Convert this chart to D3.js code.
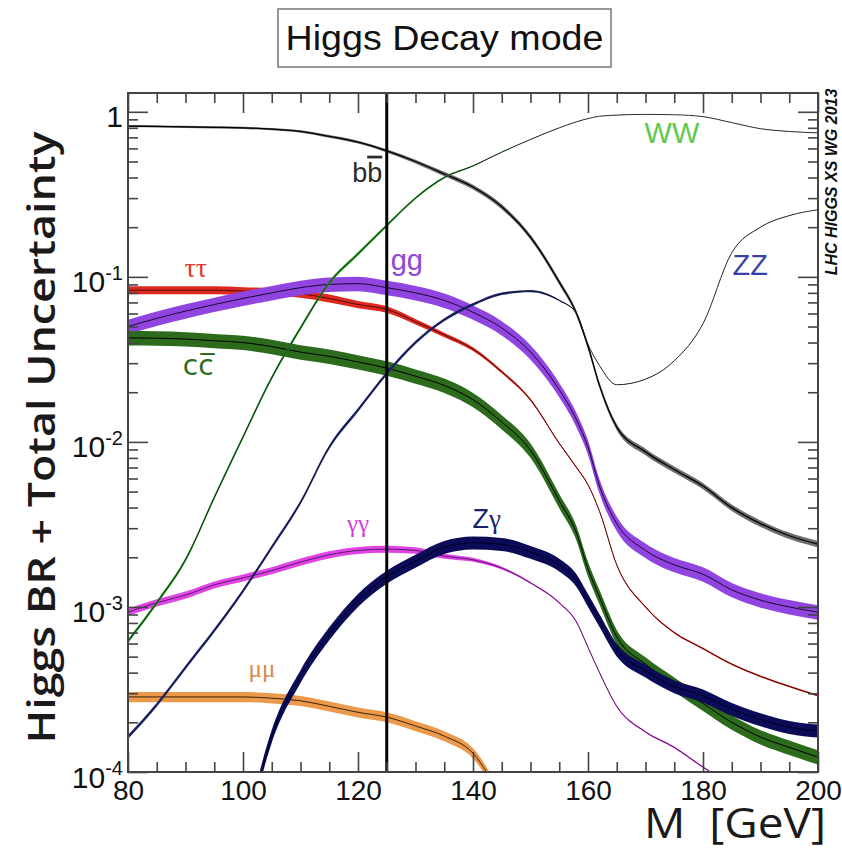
<!DOCTYPE html>
<html>
<head>
<meta charset="utf-8">
<script src="https://cdn.jsdelivr.net/npm/d3@7"></script>
<style>
  html, body { margin: 0; padding: 0; background: #fff; }
  svg { display: block; font-family: "Liberation Sans", Arial, sans-serif; }
</style>
</head>
<body>
<svg id="chart"></svg>
<script>
// Higgs mass grid [GeV]
const masses = [80, 85, 90, 95, 100, 105, 110, 115, 120, 125, 130, 135, 140, 145, 150, 155, 158, 160, 162, 165, 170, 175, 180, 185, 190, 195, 200];

// branching ratios (null = outside the frame)
const brBB = [0.82, 0.815, 0.81, 0.805, 0.80, 0.785, 0.76, 0.71, 0.655, 0.58, 0.50, 0.42, 0.35, 0.266, 0.174, 0.093, 0.06, 0.038, 0.022, 0.0123, 0.0087, 0.0068, 0.0054, 0.0040, 0.0032, 0.0027, 0.0024];
const brTauTau = [0.083, 0.083, 0.083, 0.083, 0.082, 0.081, 0.079, 0.074, 0.068, 0.0635, 0.0535, 0.0445, 0.0365, 0.0266, 0.018, 0.0098, 0.0070, 0.0055, 0.0038, 0.0018, 0.0010, 7.0e-4, 5.6e-4, 4.5e-4, 3.8e-4, 3.3e-4, 2.9e-4];
const brGG = [0.050, 0.056, 0.062, 0.068, 0.074, 0.080, 0.086, 0.090, 0.091, 0.086, 0.080, 0.072, 0.061, 0.049, 0.035, 0.0207, 0.0136, 0.0093, 0.0054, 0.0032, 0.0022, 0.0018, 0.00158, 0.00127, 0.0011, 0.0010, 0.00093];
const brCC = [0.0427, 0.0425, 0.042, 0.041, 0.040, 0.0378, 0.035, 0.033, 0.0305, 0.028, 0.025, 0.022, 0.018, 0.0132, 0.0089, 0.0044, 0.0028, 0.0017, 0.00115, 6.6e-4, 4.5e-4, 3.4e-4, 2.6e-4, 2.0e-4, 1.63e-4, 1.41e-4, 1.23e-4];
const brWW = [6.2e-4, 1.06e-3, 1.93e-3, 4.6e-3, 0.0107, 0.0245, 0.049, 0.092, 0.138, 0.205, 0.30, 0.40, 0.47, 0.57, 0.68, 0.80, 0.87, 0.91, 0.94, 0.955, 0.965, 0.96, 0.935, 0.86, 0.79, 0.76, 0.745];
const brZZ = [1.63e-4, 2.56e-4, 4.3e-4, 7.2e-4, 1.25e-3, 2.3e-3, 4.3e-3, 9.3e-3, 0.0156, 0.026, 0.040, 0.055, 0.068, 0.079, 0.082, 0.072, 0.060, 0.039, 0.029, 0.0222, 0.024, 0.031, 0.052, 0.14, 0.20, 0.235, 0.255];
const brGamGam = [9.3e-4, 1.06e-3, 1.18e-3, 1.36e-3, 1.5e-3, 1.66e-3, 1.87e-3, 2.07e-3, 2.2e-3, 2.24e-3, 2.2e-3, 2.03e-3, 1.93e-3, 1.72e-3, 1.4e-3, 1.06e-3, 8.1e-4, 5.7e-4, 4.0e-4, 2.5e-4, 1.75e-4, 1.41e-4, 1.07e-4, 8.3e-5, null, null, null];
const brZGam = [null, null, null, null, 3.5e-5, 1.65e-4, 3.8e-4, 6.9e-4, 1.1e-3, 1.52e-3, 1.9e-3, 2.3e-3, 2.45e-3, 2.4e-3, 2.15e-3, 1.8e-3, 1.45e-3, 1.1e-3, 8.3e-4, 5.5e-4, 4.1e-4, 3.3e-4, 2.9e-4, 2.4e-4, 2.08e-4, 1.87e-4, 1.78e-4];
const brMuMu = [2.85e-4, 2.85e-4, 2.85e-4, 2.85e-4, 2.85e-4, 2.8e-4, 2.7e-4, 2.5e-4, 2.3e-4, 2.15e-4, 1.9e-4, 1.65e-4, 1.3e-4, 7.0e-5, 3.5e-5, null, null, null, null, null, null, null, null, null, null, null, null];

// relative total uncertainty (half width of the band)
const errBB = [0.015, 0.015, 0.015, 0.015, 0.015, 0.015, 0.016, 0.018, 0.02, 0.022, 0.026, 0.03, 0.032, 0.034, 0.035, 0.037, 0.038, 0.04, 0.04, 0.042, 0.045, 0.045, 0.045, 0.045, 0.045, 0.045, 0.045];
const errTauTau = [0.055, 0.055, 0.055, 0.055, 0.055, 0.055, 0.055, 0.055, 0.05, 0.045, 0.038, 0.032, 0.027, 0.022, 0.018, 0.012, 0.012, 0.012, 0.012, 0.012, 0.012, 0.012, 0.012, 0.012, 0.012, 0.012, 0.012];
const errGamGam = [0.05, 0.05, 0.05, 0.05, 0.05, 0.05, 0.05, 0.05, 0.05, 0.05, 0.045, 0.035, 0.028, 0.02, 0.012, 0.012, 0.012, 0.012, 0.012, 0.012, 0.012, 0.012, 0.012, 0.012, 0.012, 0.012, 0.012];
const errWW = [0.028, 0.028, 0.028, 0.028, 0.028, 0.028, 0.027, 0.026, 0.024, 0.021, 0.017, 0.013, 0.009, 0.005, 0.003, 0.0015, 0.0015, 0.0015, 0.0015, 0.0015, 0.0015, 0.0015, 0.0015, 0.0015, 0.0015, 0.0015, 0.0015];
const errZZ = [0.028, 0.028, 0.028, 0.028, 0.028, 0.028, 0.028, 0.028, 0.027, 0.026, 0.024, 0.022, 0.02, 0.018, 0.015, 0.01, 0.005, 0.003, 0.0015, 0.0015, 0.0015, 0.0015, 0.0015, 0.0015, 0.0015, 0.0015, 0.0015];
const errGG = 0.1;
const errCC = 0.1;
const errZGam = 0.09;
const errMuMu = 0.07;

const xTicks = [80, 100, 120, 140, 160, 180, 200];
const yTicks = [1e-4, 1e-3, 1e-2, 1e-1, 1];
const yTickLabels = [["10", "-4"], ["10", "-3"], ["10", "-2"], ["10", "-1"], ["1", ""]];
const mHiggs = 125;

const width = 842, height = 849;
const margin = { top: 93, right: 24, bottom: 77, left: 128 };

// draw order: bands first, then the thin WW / ZZ lines
const series = [
  { name: "bb", values: brBB, err: errBB, fill: "#6e6e6e", stroke: "#000", sw: 1.3,
    label: { m: 121.6, v: 0.377, size: 27, color: "#2a2a2a", parts: [["b"], ["b", "over"]] } },
  { name: "tautau", values: brTauTau, err: errTauTau, fill: "#dc2a20", stroke: "#5a0a05", sw: 1,
    label: { m: 91.8, v: 0.1, size: 28, color: "#e5382c", parts: [["ττ", "serif"]] } },
  { name: "gg", values: brGG, err: errGG, fill: "#9145e0", stroke: "#1a0630", sw: 1,
    label: { m: 128.5, v: 0.11, size: 29, color: "#8c45d8", parts: [["gg"]] } },
  { name: "cc", values: brCC, err: errCC, fill: "#2c6a1c", stroke: "#000", sw: 1,
    label: { m: 92.2, v: 0.0255, size: 28, color: "#2f6b22", parts: [["cc\u0305", "dejavu"]] } },
  { name: "gamgam", values: brGamGam, err: errGamGam, fill: "#e043e6", stroke: "#5a1a6a", sw: 1,
    label: { m: 120, v: 0.00285, size: 25, color: "#d43fd6", parts: [["γγ", "serif"]] } },
  { name: "mumu", values: brMuMu, err: errMuMu, fill: "#eb9a4c", stroke: "#3a2008", sw: 1,
    label: { m: 103.3, v: 3.77e-4, size: 25, color: "#d58a48", parts: [["μμ", "serif"]] } },
  { name: "zgam", values: brZGam, err: errZGam, fill: "#0b0b58", stroke: "#000028", sw: 1,
    label: { m: 142.4, v: 0.0030, size: 27, color: "#1b2170", parts: [["Z"], ["γ", "serif"]] } },
  { name: "ww", values: brWW, err: errWW, fill: "#22a022", stroke: "#1c1c1c", sw: 0.9,
    label: { m: 174.6, v: 0.649, size: 29, color: "#5ec94c", parts: [["WW"]] } },
  { name: "zz", values: brZZ, err: errZZ, fill: "#252c86", stroke: "#141414", sw: 0.9,
    label: { m: 188.2, v: 0.103, size: 29, color: "#3b3fa8", parts: [["ZZ"]] } }
];

const svg = d3.select("#chart")
  .attr("width", width)
  .attr("height", height);

const xScale = d3.scaleLinear()
  .domain([80, 200])
  .range([margin.left, width - margin.right]);

const yScale = d3.scaleLog()
  .domain([1e-4, 1.3])
  .range([height - margin.bottom, margin.top]);

svg.append("defs").append("clipPath")
  .attr("id", "plot-clip")
  .append("rect")
  .attr("x", margin.left)
  .attr("y", margin.top)
  .attr("width", width - margin.left - margin.right)
  .attr("height", height - margin.top - margin.bottom);

const points = (s) => masses
  .map((m, i) => ({ m, v: s.values[i], e: typeof s.err === "number" ? s.err : s.err[i] }))
  .filter(d => d.v != null);

const band = d3.area()
  .x(d => xScale(d.m))
  .y0(d => yScale(d.v * (1 - d.e)))
  .y1(d => yScale(d.v * (1 + d.e)))
  .curve(d3.curveMonotoneX);

const centre = d3.line()
  .x(d => xScale(d.m))
  .y(d => yScale(d.v))
  .curve(d3.curveMonotoneX);

const plot = svg.append("g").attr("clip-path", "url(#plot-clip)");

series.forEach(s => {
  const pts = points(s);
  plot.append("path")
    .attr("d", band(pts))
    .attr("fill", s.fill);
  plot.append("path")
    .attr("d", centre(pts))
    .attr("fill", "none")
    .attr("stroke", s.stroke)
    .attr("stroke-width", s.sw);
});

// SM Higgs mass marker
plot.append("line")
  .attr("x1", xScale(mHiggs)).attr("x2", xScale(mHiggs))
  .attr("y1", margin.top).attr("y2", height - margin.bottom)
  .attr("stroke", "#000")
  .attr("stroke-width", 3);

// curve labels
series.forEach(s => {
  const lb = s.label;
  const t = svg.append("text")
    .attr("x", xScale(lb.m))
    .attr("y", yScale(lb.v))
    .attr("text-anchor", "middle")
    .attr("font-size", lb.size)
    .attr("fill", lb.color);
  lb.parts.forEach(([txt, style]) => {
    const ts = t.append("tspan").text(txt);
    if (style === "serif") ts.attr("font-family", "'Liberation Serif', 'DejaVu Serif', serif");
    if (style === "dejavu") ts.attr("font-family", "'DejaVu Sans', sans-serif");
    if (style === "over") ts.style("text-decoration", "overline");
  });
});

// axes: ROOT style, ticks inside on all four sides
const axisColor = "#444";
const minorX = d3.range(80, 201, 5).filter(d => d % 20 !== 0);
const minorY = yScale.ticks().filter(d => !yTicks.some(t => Math.abs(t - d) / t < 1e-6));

const styleAxis = (g) => {
  g.select(".domain").remove();
  g.selectAll(".tick line").attr("stroke", axisColor).attr("stroke-width", 1.6);
  g.attr("font-family", "'Liberation Sans', Arial, sans-serif").attr("fill", "#111");
};

const bottomY = height - margin.bottom;
const rightX = width - margin.right;

svg.append("g")
  .attr("transform", `translate(0,${bottomY})`)
  .call(d3.axisBottom(xScale).tickValues(xTicks).tickSize(-20).tickPadding(8).tickFormat(d3.format("d")))
  .call(styleAxis)
  .attr("font-size", 28)
  .selectAll("text").attr("fill", "#111");

svg.append("g")
  .attr("transform", `translate(0,${bottomY})`)
  .call(d3.axisBottom(xScale).tickValues(minorX).tickSize(-10).tickFormat(""))
  .call(styleAxis);

svg.append("g")
  .attr("transform", `translate(0,${margin.top})`)
  .call(d3.axisTop(xScale).tickValues(xTicks).tickSize(-20).tickFormat(""))
  .call(styleAxis);

svg.append("g")
  .attr("transform", `translate(0,${margin.top})`)
  .call(d3.axisTop(xScale).tickValues(minorX).tickSize(-10).tickFormat(""))
  .call(styleAxis);

const yAxisGroup = svg.append("g")
  .attr("transform", `translate(${margin.left},0)`)
  .call(d3.axisLeft(yScale).tickValues(yTicks).tickSize(-20).tickPadding(5).tickFormat(() => ""))
  .call(styleAxis)
  .attr("font-size", 30);

yAxisGroup.selectAll(".tick text").each(function (d, i) {
  const t = d3.select(this).attr("dy", "0.5em").attr("fill", "#111");
  const [base, exp] = yTickLabels[i];
  t.append("tspan").text(base);
  if (exp) t.append("tspan").attr("font-size", 20).attr("dy", "-0.62em").text(exp);
});

svg.append("g")
  .attr("transform", `translate(${margin.left},0)`)
  .call(d3.axisLeft(yScale).tickValues(minorY).tickSize(-10).tickFormat(""))
  .call(styleAxis);

svg.append("g")
  .attr("transform", `translate(${rightX},0)`)
  .call(d3.axisRight(yScale).tickValues(yTicks).tickSize(-20).tickFormat(""))
  .call(styleAxis);

svg.append("g")
  .attr("transform", `translate(${rightX},0)`)
  .call(d3.axisRight(yScale).tickValues(minorY).tickSize(-10).tickFormat(""))
  .call(styleAxis);

// frame
svg.append("rect")
  .attr("x", margin.left)
  .attr("y", margin.top)
  .attr("width", rightX - margin.left)
  .attr("height", bottomY - margin.top)
  .attr("fill", "none")
  .attr("stroke", axisColor)
  .attr("stroke-width", 2);

// axis titles
svg.append("text")
  .attr("transform", `translate(55,${(margin.top + bottomY) / 2 + 5}) rotate(-90)`)
  .attr("text-anchor", "middle")
  .attr("font-family", "'Open Sans', sans-serif")
  .attr("font-weight", 600)
  .attr("font-size", 38)
  .attr("textLength", 612)
  .attr("lengthAdjust", "spacingAndGlyphs")
  .attr("fill", "#1a1a1a")
  .text("Higgs BR + Total Uncertainty");

svg.append("text")
  .attr("x", 826)
  .attr("y", 838)
  .attr("text-anchor", "end")
  .attr("font-family", "'Open Sans', sans-serif")
  .attr("font-weight", 500)
  .attr("font-size", 42)
  .attr("textLength", 182)
  .attr("lengthAdjust", "spacingAndGlyphs")
  .attr("fill", "#1a1a1a")
  .attr("xml:space", "preserve")
  .text("M  [GeV]");

// plot title box
const titleG = svg.append("g");
titleG.append("rect")
  .attr("x", 278).attr("y", 9)
  .attr("width", 333).attr("height", 58)
  .attr("fill", "#fff")
  .attr("stroke", "#777")
  .attr("stroke-width", 1.5);
titleG.append("text")
  .attr("x", 444.5).attr("y", 50)
  .attr("text-anchor", "middle")
  .attr("font-size", 35)
  .attr("textLength", 318)
  .attr("lengthAdjust", "spacingAndGlyphs")
  .attr("fill", "#111")
  .text("Higgs Decay mode");

// working group stamp
svg.append("text")
  .attr("transform", `translate(837,182) rotate(-90)`)
  .attr("text-anchor", "middle")
  .attr("font-size", 16)
  .attr("font-weight", "bold")
  .attr("font-style", "italic")
  .attr("fill", "#111")
  .text("LHC HIGGS XS WG 2013");
</script>
</body>
</html>
